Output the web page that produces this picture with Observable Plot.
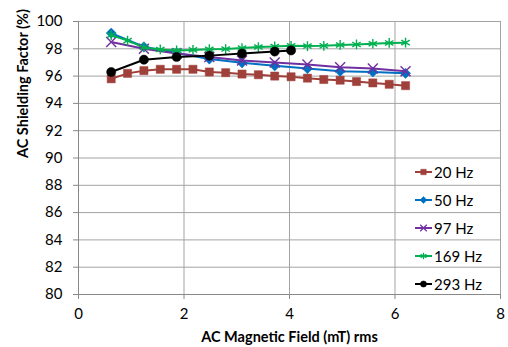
<!DOCTYPE html>
<html>
<head>
<meta charset="utf-8">
<script src="https://cdn.jsdelivr.net/npm/d3@7"></script>
<script src="https://cdn.jsdelivr.net/npm/@observablehq/plot@0.6"></script>
<style>
  html, body { margin: 0; padding: 0; background: #fff; }
  #wrap { position: relative; width: 508px; height: 347px; font-family: Lato, "Open Sans", sans-serif; }
  #legend { position: absolute; left: 414px; top: 158px; }
  .row { display: flex; align-items: center; height: 28px; font-size: 15px; color: #000; }
  .row svg { margin-right: 1px; }
</style>
</head>
<body>
<div id="wrap"><div id="legend"></div></div>
<script>
// ---- data ----
const seriesNames = ["20 Hz", "50 Hz", "97 Hz", "169 Hz", "293 Hz"];
const seriesColors = ["#a0403b", "#0070c0", "#7030a0", "#00b050", "#000000"];
const seriesSymbols = ["square", "diamond2", "times", "asterisk", "circle"];

const fieldFine = [0.62, 0.93, 1.24, 1.55, 1.86, 2.17, 2.48, 2.79, 3.10, 3.41, 3.72, 4.03, 4.34, 4.65, 4.96, 5.27, 5.58, 5.89, 6.20];
const fieldCoarse = [0.62, 1.24, 1.86, 2.48, 3.10, 3.72, 4.34, 4.96, 5.58, 6.20];
const field293 = [0.62, 1.24, 1.86, 2.48, 3.10, 3.72, 4.03];

const hz20 = [95.8, 96.2, 96.4, 96.5, 96.5, 96.5, 96.3, 96.25, 96.15, 96.1, 96.0, 95.95, 95.85, 95.75, 95.7, 95.6, 95.5, 95.4, 95.3];
const hz50 = [99.15, 98.15, 97.7, 97.25, 96.97, 96.75, 96.55, 96.35, 96.3, 96.2];
const hz97 = [98.5, 98.0, 97.65, 97.4, 97.15, 97.0, 96.85, 96.65, 96.55, 96.35];
const hz169 = [99.0, 98.6, 98.1, 97.95, 97.88, 97.92, 97.97, 97.98, 98.05, 98.13, 98.17, 98.22, 98.2, 98.22, 98.28, 98.32, 98.37, 98.43, 98.45];
const hz293 = [96.3, 97.2, 97.4, 97.5, 97.65, 97.8, 97.88];

const xTicks = [0, 2, 4, 6, 8];
const yTicks = [80, 82, 84, 86, 88, 90, 92, 94, 96, 98, 100];
const xTitle = "AC Magnetic Field (mT) rms";
const yTitle = "AC Shielding Factor (%)";

// ---- build ----
const seriesX = [fieldFine, fieldCoarse, fieldCoarse, fieldFine, field293];
const seriesY = [hz20, hz50, hz97, hz169, hz293];
const series = seriesNames.map((name, i) => ({
  name, color: seriesColors[i], symbol: seriesSymbols[i],
  rows: seriesX[i].map((x, j) => ({x, y: seriesY[i][j]}))
}));
const strokeSymbols = new Set(["times", "asterisk"]);

const marks = [
  Plot.ruleY(yTicks, {stroke: "#a3a3a3", strokeWidth: 1}),
  Plot.ruleX(xTicks.filter(d => d > 0), {stroke: "#a3a3a3", strokeWidth: 1}),
  Plot.ruleX([0], {stroke: "#888", strokeWidth: 1}),
  Plot.ruleY([80], {stroke: "#888", strokeWidth: 1}),
  Plot.axisY({ticks: yTicks, tickSize: 5, tickPadding: 11, stroke: "#888", fontSize: 15, label: null}),
  Plot.axisX({ticks: xTicks, tickSize: 5, tickPadding: 9, stroke: "#888", fontSize: 15, label: null}),
  Plot.text([xTitle], {frameAnchor: "bottom", dy: 43, lineAnchor: "middle", fontSize: 14.5, fontWeight: "bold", fill: "#000"}),
  Plot.text([yTitle], {frameAnchor: "left", dx: -55, rotate: -90, lineAnchor: "middle", fontSize: 14.5, fontWeight: "bold", fill: "#000"})
];
for (const s of series) {
  marks.push(Plot.line(s.rows, {x: "x", y: "y", stroke: s.color, strokeWidth: 2}));
  const isStroke = strokeSymbols.has(s.symbol);
  marks.push(Plot.dot(s.rows, {
    x: "x", y: "y", symbol: () => s.symbol, r: 4.6,
    fill: isStroke ? "none" : s.color, stroke: s.color, strokeWidth: isStroke ? 1.4 : 0.5
  }));
}

const chart = Plot.plot({
  width: 508, height: 347,
  marginLeft: 78, marginRight: 8, marginTop: 21, marginBottom: 53,
  style: {fontFamily: "Lato, 'Open Sans', sans-serif", fontSize: "15px", color: "#000", background: "#fff"},
  x: {domain: [0, 8]},
  y: {domain: [80, 100]},
  symbol: {type: "identity"},
  marks
});
const wrap = document.getElementById("wrap");
wrap.insertBefore(chart, wrap.firstChild);

// ---- legend overlay ----
const legend = document.getElementById("legend");
const d3Sym = {square: d3.symbolSquare, diamond2: d3.symbolDiamond2, times: d3.symbolTimes, asterisk: d3.symbolAsterisk, circle: d3.symbolCircle};
for (const s of series) {
  const row = document.createElement("div");
  row.className = "row";
  const isStroke = strokeSymbols.has(s.symbol);
  const path = d3.symbol(d3Sym[s.symbol] || d3.symbolCircle, 30)();
  row.innerHTML = `<svg width="19" height="14" viewBox="0 0 19 14">
    <line x1="1" x2="18" y1="7" y2="7" stroke="${s.color}" stroke-width="2"/>
    <path transform="translate(9.5,7)" d="${path}" fill="${isStroke ? "none" : s.color}" stroke="${s.color}" stroke-width="${isStroke ? 1.2 : 0.5}"/>
  </svg><span>${s.name}</span>`;
  legend.appendChild(row);
}
</script>
</body>
</html>
